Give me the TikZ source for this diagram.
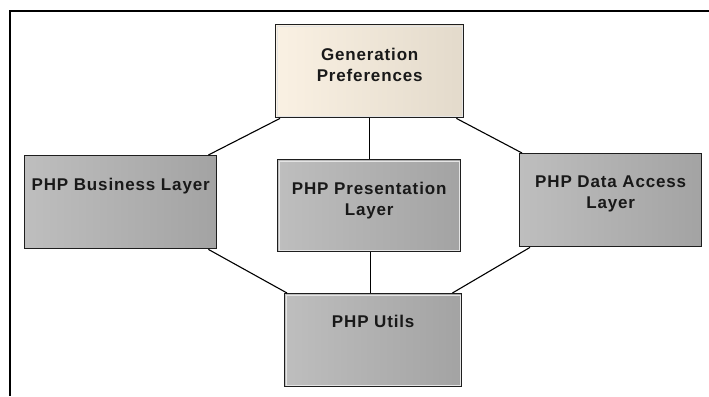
\documentclass[tikz,border=0pt]{standalone}
\usepackage{fontspec}
\setmainfont{Liberation Sans}
\newfontfamily\boxfont[LetterSpace=5]{Liberation Sans}
\usetikzlibrary{calc}
\definecolor{grayL}{RGB}{190,190,190}
\definecolor{grayM}{RGB}{197,197,197}
\definecolor{grayR}{RGB}{163,163,163}
\definecolor{creamL}{RGB}{250,241,227}
\definecolor{creamM}{RGB}{246,237,223}
\definecolor{creamR}{RGB}{227,218,203}
\definecolor{edge}{RGB}{30,30,30}
\definecolor{inkc}{RGB}{25,25,25}
\tikzset{
  base/.style={rectangle, draw=edge, line width=1.4pt, inner sep=0pt, anchor=north west},
  graybox/.style={base, left color=grayL, middle color=grayM, right color=grayR},
  creambox/.style={base, left color=creamL, middle color=creamM, right color=creamR},
  boxtext/.style={anchor=north, inner sep=0pt, align=center, text=inkc,
    font=\boxfont\bfseries\fontsize{17}{21}\selectfont},
  link/.style={draw=black, line width=1.1pt},
  frame/.style={draw=black, line width=2pt}
}
\newcommand{\rim}[2]{% light inner edge of a box
  \draw[white!80!gray, line width=0.8pt] ($(#1.north west)+(2.5,2.5)$) rectangle ($(#1.south east)+(-2.5,-2.5)$);}
\begin{document}
\begin{tikzpicture}[x=1pt, y=-1pt]
\useasboundingbox (0,0) rectangle (709,396);
\fill[white] (0,0) rectangle (709,396);
% frame lines
\coordinate (ftl) at (10,11);
\coordinate (ftr) at (709,11);
\coordinate (fbl) at (10,396);
\draw[frame] (ftr) -- (ftl) -- (fbl);

% boxes
\node[creambox, minimum width=188pt, minimum height=93pt,
  label={[boxtext, yshift=-24pt]north:Generation\\Preferences}] (gen) at (275,24) {};
\node[graybox, minimum width=192pt, minimum height=93pt,
  label={[boxtext, yshift=-23pt]north:PHP Business Layer}] (bus) at (24,155) {};
\node[graybox, minimum width=183pt, minimum height=92pt,
  label={[boxtext, yshift=-23pt]north:PHP Presentation\\Layer}] (pres) at (277,159) {};
\node[graybox, minimum width=182pt, minimum height=93pt,
  label={[boxtext, yshift=-23pt]north:PHP Data Access\\Layer}] (dal) at (519,153) {};
\node[graybox, minimum width=177pt, minimum height=93pt,
  label={[boxtext, yshift=-22pt]north:PHP Utils}] (utl) at (284,293) {};

\rim{gen}\rim{bus}\rim{pres}\rim{dal}\rim{utl}

% connectors
\draw[link] ($(gen.south west)+(5,0)$) -- ($(bus.north east)+(-9,0)$);
\draw[link] (gen.south) -- (gen.south |- pres.north);
\draw[link] ($(gen.south east)+(-8,0)$) -- ($(dal.north west)+(3,0)$);
\draw[link] ($(bus.south east)+(-9,0)$) -- ($(utl.north west)+(3,0)$);
\draw[link] ($(pres.south)+(1,0)$) -- ($(pres.south |- utl.north)+(1,0)$);
\draw[link] ($(dal.south west)+(11,0)$) -- ($(utl.north east)+(-10,0)$);
\end{tikzpicture}
\end{document}
